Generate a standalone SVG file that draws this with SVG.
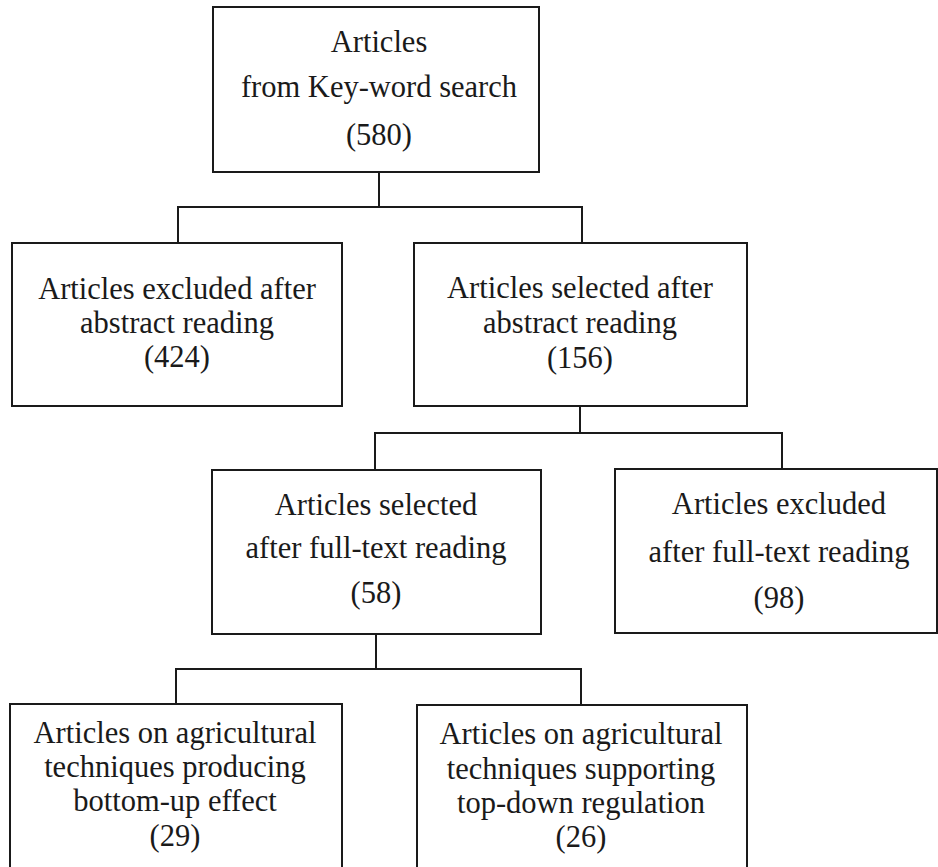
<svg xmlns="http://www.w3.org/2000/svg" width="938" height="867" viewBox="0 0 938 867">
<style>
.box{fill:#fff;stroke:#1a1a1a;stroke-width:2}
.ln{fill:none;stroke:#1a1a1a;stroke-width:2}
text{font-family:"Liberation Serif","Times New Roman",serif;font-size:30.5px;fill:#1a1a1a;text-anchor:middle}
</style>
<rect width="938" height="867" fill="#fff"/>
<g id="connectors">
<path class="ln" d="M379,172V207M178,243V207H582V243"/>
<path class="ln" d="M580,406V433M375,470V433H782V469"/>
<path class="ln" d="M376,634V669M176,704V669H581V705"/>
</g>
<g id="n580">
<rect class="box" x="213" y="7" width="326" height="165"/>
<text x="379" y="52">Articles</text>
<text x="379" y="97">from Key-word search</text>
<text x="379" y="145">(580)</text>
</g>
<g id="n424">
<rect class="box" x="12" y="243" width="330" height="163"/>
<text x="177" y="299">Articles excluded after</text>
<text x="177" y="333">abstract reading</text>
<text x="177" y="367">(424)</text>
</g>
<g id="n156">
<rect class="box" x="414" y="243" width="333" height="163"/>
<text x="580" y="298">Articles selected after</text>
<text x="580" y="333">abstract reading</text>
<text x="580" y="368">(156)</text>
</g>
<g id="n58">
<rect class="box" x="212" y="470" width="329" height="164"/>
<text x="376" y="515">Articles selected</text>
<text x="376" y="558">after full-text reading</text>
<text x="376" y="603">(58)</text>
</g>
<g id="n98">
<rect class="box" x="615" y="469" width="322" height="164"/>
<text x="779" y="514">Articles excluded</text>
<text x="779" y="562">after full-text reading</text>
<text x="779" y="608">(98)</text>
</g>
<g id="n29">
<rect class="box" x="10" y="704" width="332" height="200"/>
<text x="175" y="743">Articles on agricultural</text>
<text x="175" y="777">techniques producing</text>
<text x="175" y="811">bottom-up effect</text>
<text x="175" y="846">(29)</text>
</g>
<g id="n26">
<rect class="box" x="417" y="705" width="330" height="200"/>
<text x="581" y="744">Articles on agricultural</text>
<text x="581" y="779">techniques supporting</text>
<text x="581" y="813">top-down regulation</text>
<text x="581" y="847">(26)</text>
</g>
</svg>
